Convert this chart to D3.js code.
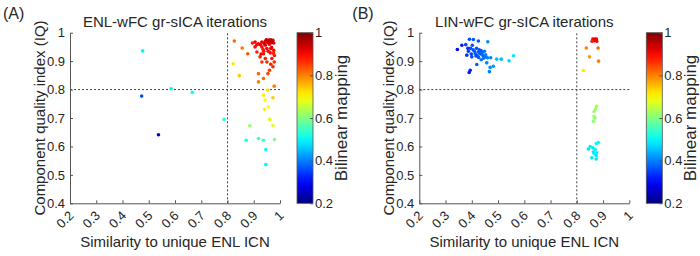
<!DOCTYPE html>
<html>
<head>
<meta charset="utf-8">
<script src="https://cdn.jsdelivr.net/npm/d3@7"></script>
<style>
	body { margin: 0; background: #fff; }
	svg text { font-family: Arial, 'Liberation Sans', sans-serif; fill: #262626; }
</style>
</head>
<body>
<div id="chart"></div>
<script>
// panel A: ENL-wFC iterations
const enlSim = [0.477, 0.473, 0.585, 0.666, 0.537, 0.787,
	0.826, 0.822, 0.856, 0.845, 0.877, 0.918, 0.918, 0.937, 0.978, 0.953, 0.937, 0.943, 0.956, 0.941, 0.973, 0.960, 0.973, 0.885, 0.871, 0.918, 0.937, 0.979, 0.946, 0.946,
	0.895, 0.905, 0.918, 0.931, 0.944, 0.956, 0.965, 0.973, 0.976, 0.960, 0.944, 0.931, 0.950, 0.965, 0.976, 0.963, 0.979, 0.969, 0.975, 0.978, 0.965, 0.973, 0.960, 0.954,
	0.937, 0.944, 0.950, 0.931, 0.924, 0.912, 0.905, 0.940, 0.952, 0.962, 0.970, 0.948, 0.958, 0.969, 0.925, 0.912, 0.938, 0.955, 0.968, 0.935, 0.928];
const enlIQ = [0.936, 0.777, 0.803, 0.790, 0.641, 0.695,
	0.971, 0.891, 0.946, 0.849, 0.926, 0.856, 0.827, 0.839, 0.812, 0.798, 0.780, 0.763, 0.739, 0.731, 0.771, 0.695, 0.674, 0.673, 0.622, 0.628, 0.622, 0.624, 0.589, 0.536,
	0.964, 0.967, 0.961, 0.967, 0.970, 0.971, 0.975, 0.973, 0.964, 0.959, 0.956, 0.950, 0.944, 0.944, 0.938, 0.929, 0.920, 0.909, 0.928, 0.897, 0.889, 0.880, 0.868, 0.856,
	0.926, 0.909, 0.897, 0.897, 0.915, 0.932, 0.950, 0.962, 0.966, 0.968, 0.966, 0.975, 0.974, 0.970, 0.958, 0.958, 0.935, 0.935, 0.948, 0.942, 0.925];
const enlMap = [0.49, 0.36, 0.49, 0.51, 0.28, 0.53,
	0.82, 0.72, 0.81, 0.74, 0.83, 0.82, 0.80, 0.82, 0.80, 0.72, 0.71, 0.70, 0.70, 0.71, 0.74, 0.67, 0.68, 0.62, 0.52, 0.55, 0.54, 0.60, 0.50, 0.49,
	0.88, 0.90, 0.90, 0.91, 0.92, 0.93, 0.94, 0.93, 0.92, 0.91, 0.90, 0.89, 0.90, 0.91, 0.90, 0.89, 0.88, 0.89, 0.88, 0.87, 0.88, 0.87, 0.86, 0.85,
	0.89, 0.88, 0.87, 0.86, 0.88, 0.88, 0.89, 0.93, 0.94, 0.95, 0.94, 0.95, 0.95, 0.95, 0.91, 0.90, 0.89, 0.90, 0.92, 0.88, 0.90];

// panel B: LIN-wFC iterations
const linSim = [0.345, 0.362, 0.391, 0.406, 0.425, 0.461, 0.387, 0.381, 0.400, 0.413, 0.425, 0.432, 0.440, 0.451, 0.460, 0.419, 0.394, 0.390, 0.457, 0.470, 0.467, 0.482, 0.495, 0.512, 0.542, 0.559,
	0.395, 0.405, 0.418, 0.428, 0.435, 0.442, 0.410, 0.398, 0.420, 0.436, 0.448, 0.385, 0.377, 0.402, 0.416, 0.445, 0.426, 0.453, 0.472,
	0.861, 0.866, 0.872, 0.876, 0.858, 0.868, 0.875, 0.836, 0.881, 0.848, 0.883, 0.825,
	0.876, 0.871, 0.866, 0.866, 0.869, 0.863,
	0.851, 0.861, 0.874, 0.882, 0.844, 0.870, 0.863, 0.876, 0.874, 0.857, 0.874, 0.866];
const linIQ = [0.941, 0.956, 0.977, 0.976, 0.971, 0.968, 0.935, 0.921, 0.915, 0.927, 0.932, 0.925, 0.930, 0.915, 0.912, 0.888, 0.868, 0.860, 0.894, 0.878, 0.863, 0.882, 0.907, 0.907, 0.901, 0.919,
	0.945, 0.940, 0.945, 0.940, 0.937, 0.920, 0.935, 0.925, 0.920, 0.905, 0.935, 0.945, 0.958, 0.956, 0.918, 0.910, 0.913, 0.922, 0.912,
	0.978, 0.972, 0.976, 0.970, 0.970, 0.978, 0.978, 0.946, 0.946, 0.915, 0.900, 0.867,
	0.741, 0.732, 0.723, 0.706, 0.699, 0.688,
	0.600, 0.595, 0.610, 0.614, 0.591, 0.589, 0.580, 0.578, 0.568, 0.560, 0.556, 0.575];
const linMap = [0.30, 0.32, 0.36, 0.37, 0.37, 0.41, 0.35, 0.34, 0.36, 0.37, 0.37, 0.37, 0.38, 0.39, 0.40, 0.37, 0.33, 0.32, 0.40, 0.41, 0.40, 0.42, 0.45, 0.45, 0.47, 0.48,
	0.36, 0.37, 0.37, 0.37, 0.37, 0.38, 0.37, 0.35, 0.37, 0.39, 0.39, 0.34, 0.35, 0.36, 0.36, 0.39, 0.37, 0.40, 0.41,
	0.90, 0.90, 0.90, 0.91, 0.88, 0.92, 0.90, 0.80, 0.82, 0.78, 0.80, 0.72,
	0.63, 0.62, 0.62, 0.62, 0.61, 0.61,
	0.49, 0.48, 0.50, 0.50, 0.48, 0.49, 0.48, 0.49, 0.48, 0.48, 0.48, 0.49];

const xTicks = [0.2, 0.3, 0.4, 0.5, 0.6, 0.7, 0.8, 0.9, 1];
const yTicks = [0.4, 0.5, 0.6, 0.7, 0.8, 0.9, 1];
const cTicks = [0.2, 0.4, 0.6, 0.8, 1];

// matlab jet
function jet(t) {
	const c = (v) => Math.round(255 * Math.max(0, Math.min(1, v)));
	return `rgb(${c(1.5 - Math.abs(4 * t - 3))},${c(1.5 - Math.abs(4 * t - 2))},${c(1.5 - Math.abs(4 * t - 1))})`;
}

const svg = d3.select('#chart').append('svg').attr('width', 700).attr('height', 256);

const defs = svg.append('defs');
const grad = defs.append('linearGradient').attr('id', 'jetGrad')
	.attr('x1', 0).attr('y1', 1).attr('x2', 0).attr('y2', 0);
d3.range(0, 1.0001, 0.05).forEach((t) => {
	grad.append('stop').attr('offset', t).attr('stop-color', jet(t));
});

function drawPanel(ox, letter, title, sim, iq, map) {
	const left = 70, right = 280, top = 32.7, bottom = 203.3;
	const g = svg.append('g').attr('transform', `translate(${ox},0)`);

	const x = d3.scaleLinear().domain([0.2, 1]).range([left, right]);
	const y = d3.scaleLinear().domain([0.4, 1]).range([bottom, top]);
	const color = d3.scaleLinear().domain([0.2, 1]).range([0, 1]).clamp(true);

	// dashed thresholds
	g.append('line').attr('x1', x(0.8)).attr('x2', x(0.8)).attr('y1', y(0.4)).attr('y2', y(1))
		.attr('stroke', '#444').attr('stroke-dasharray', '2,2');
	g.append('line').attr('x1', x(0.2)).attr('x2', x(1)).attr('y1', y(0.8)).attr('y2', y(0.8))
		.attr('stroke', '#444').attr('stroke-dasharray', '2,2');

	const pts = sim.map((d, i) => ({ s: d, q: iq[i], m: map[i] }));
	g.selectAll('circle.pt').data(pts).enter().append('circle')
		.attr('class', 'pt')
		.attr('cx', (d) => x(d.s))
		.attr('cy', (d) => y(d.q))
		.attr('r', 1.8)
		.attr('fill', (d) => jet(color(d.m)));

	// axes
	const xAxis = g.append('g').attr('transform', `translate(0,${bottom})`)
		.call(d3.axisBottom(x).tickValues(xTicks).tickSizeInner(-3).tickSizeOuter(0).tickFormat(d3.format('')));
	xAxis.selectAll('text')
		.attr('font-size', 13)
		.style('text-anchor', 'end')
		.attr('y', 0).attr('dy', 0)
		.attr('transform', 'translate(4,13) rotate(-45)');
	const yAxis = g.append('g').attr('transform', `translate(${left},0)`)
		.call(d3.axisLeft(y).tickValues(yTicks).tickSizeInner(-3).tickSizeOuter(0).tickFormat(d3.format('')));
	yAxis.selectAll('text').attr('font-size', 13).attr('x', -5);
	[xAxis, yAxis].forEach((a) => {
		a.select('.domain').attr('stroke', '#555');
		a.selectAll('.tick line').attr('stroke', '#555');
	});

	// colorbar
	const cb = d3.scaleLinear().domain([0.2, 1]).range([bottom, top]);
	const cbx = 227;
	g.append('rect').attr('x', cbx + left).attr('y', top).attr('width', 16).attr('height', bottom - top)
		.attr('fill', 'url(#jetGrad)').attr('stroke', '#555').attr('stroke-width', 0.8);
	const cAxis = g.append('g').attr('transform', `translate(${cbx + left + 16},0)`)
		.call(d3.axisRight(cb).tickValues(cTicks).tickSizeInner(-3).tickSizeOuter(0).tickFormat(d3.format('')));
	cAxis.select('.domain').remove();
	cAxis.selectAll('.tick line').attr('stroke', '#555');
	cAxis.selectAll('text').attr('font-size', 13).attr('x', 2);

	g.append('text').attr('transform', `translate(${cbx + left + 50},${(top + bottom) / 2}) rotate(-90)`)
		.attr('text-anchor', 'middle').attr('font-size', 17).text('Bilinear mapping');

	// labels
	g.append('text').attr('x', (left + right) / 2).attr('y', 27).attr('text-anchor', 'middle')
		.attr('font-size', 15).text(title);
	g.append('text').attr('x', (left + right) / 2).attr('y', 247).attr('text-anchor', 'middle')
		.attr('font-size', 15).text('Similarity to unique ENL ICN');
	g.append('text').attr('transform', `translate(45,${(top + bottom) / 2}) rotate(-90)`)
		.attr('text-anchor', 'middle').attr('font-size', 15).text('Component quality index (IQ)');
	g.append('text').attr('x', 3).attr('y', 19).attr('font-size', 16).text(letter);
}

drawPanel(0, '(A)', 'ENL-wFC gr-sICA iterations', enlSim, enlIQ, enlMap);
drawPanel(349.3, '(B)', 'LIN-wFC gr-sICA iterations', linSim, linIQ, linMap);
</script>
</body>
</html>
